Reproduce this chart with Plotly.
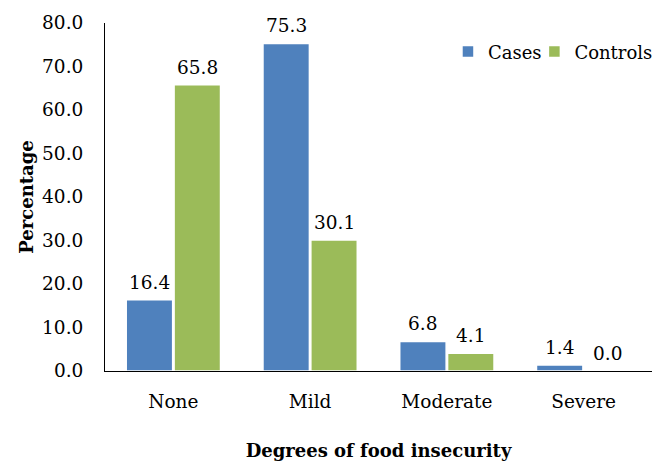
import plotly.graph_objects as go

categories = ["None", "Mild", "Moderate", "Severe"]
cases = [16.4, 75.3, 6.8, 1.4]
controls = [65.8, 30.1, 4.1, 0.0]
y_ticks = [0, 10, 20, 30, 40, 50, 60, 70, 80]

FONT = "DejaVu Serif"
SIZE = 18.5

# name, values, colour, label offset, legend id, legend x
series = [("Cases", cases, "#4F81BD", -24, "legend", 0.627),
          ("Controls", controls, "#9BBB59", 24, "legend2", 0.785)]

fig = go.Figure()
for name, vals, color, _, leg, _ in series:
    fig.add_trace(go.Bar(
        name=name, x=categories, y=vals, legend=leg, showlegend=True,
        marker=dict(color=color, line=dict(color="white", width=1.5)),
    ))

# value labels above each bar
for name, vals, color, dx, _, _ in series:
    for cat, v in zip(categories, vals):
        fig.add_annotation(x=cat, y=v, text=f"{v:.1f}", showarrow=False,
                           xref="x", yref="y", xshift=dx, yshift=5,
                           yanchor="bottom", font=dict(family=FONT, size=SIZE, color="black"))

legend_style = dict(orientation="h", xanchor="left", y=0.917, yanchor="middle",
                    font=dict(family=FONT, size=18), itemwidth=30,
                    bgcolor="rgba(0,0,0,0)")

fig.update_layout(
    width=652, height=461,
    margin=dict(l=105, r=0, t=23, b=90, autoexpand=False),
    paper_bgcolor="white", plot_bgcolor="white",
    showlegend=True,
    barmode="group", bargap=0.3, bargroupgap=0.03,
    font=dict(family=FONT, size=SIZE, color="black"),
    legend=dict(x=series[0][5], **legend_style),
    legend2=dict(x=series[1][5], **legend_style),
    xaxis=dict(showline=True, linecolor="black", linewidth=1, ticks="",
               ticklabelstandoff=14,
               title=dict(text="<b>Degrees of food insecurity</b>", standoff=35,
                          font=dict(family=FONT, size=18))),
    yaxis=dict(range=[0, 80], tickvals=y_ticks, tickformat=".1f",
               showline=True, linecolor="black", linewidth=1, ticks="",
               showgrid=False, zeroline=False, ticklabelstandoff=17,
               title=dict(text="<b>Percentage</b>", standoff=3,
                          font=dict(family=FONT, size=18))),
)

fig.write_html("out.html")
